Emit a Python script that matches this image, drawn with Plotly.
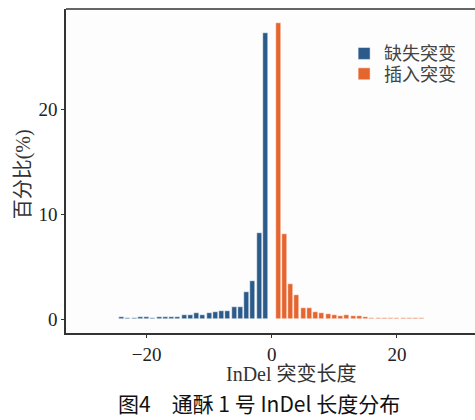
import plotly.graph_objects as go

# InDel length (deletions negative, insertions positive) and percentage
del_len = [-1, -2, -3, -4, -5, -6, -7, -8, -9, -10, -11, -12, -13, -14, -15, -16,
           -17, -18, -19, -20, -21, -22, -23, -24]
del_pct = [27.2, 8.2, 3.7, 2.6, 1.2, 1.2, 0.83, 0.83, 0.70, 0.64, 0.45, 0.57, 0.38, 0.38,
           0.26, 0.26, 0.19, 0.26, 0.16, 0.19, 0.19, 0.10, 0.10, 0.19]
ins_len = [1, 2, 3, 4, 5, 6, 7, 8, 9, 10, 11, 12, 13, 14, 15, 16, 17, 18, 19, 20,
           21, 22, 23, 24]
ins_pct = [28.2, 8.1, 3.4, 2.35, 1.1, 1.1, 0.72, 0.64, 0.56, 0.45, 0.35, 0.45, 0.29, 0.29,
           0.22, 0.16, 0.16, 0.16, 0.13, 0.13, 0.13, 0.10, 0.10, 0.10]

del_name = "缺失突变"
ins_name = "插入突变"
x_title = "InDel 突变长度"
y_title = "百分比(%)"
caption = "图4　通酥 1 号 InDel 长度分布"
x_ticks = [-20, 0, 20]
y_ticks = [0, 10, 20]

BLUE = "#2b5b8b"
ORANGE = "#e5652f"
SERIF = "Liberation Serif, Noto Sans CJK SC, serif"

fig = go.Figure()
fig.add_trace(go.Bar(x=del_len, y=del_pct, name=del_name, width=0.8, legend="legend",
                     marker=dict(color=BLUE, line=dict(color="white", width=0.5))))
fig.add_trace(go.Bar(x=ins_len, y=ins_pct, name=ins_name, width=0.8, legend="legend2",
                     marker=dict(color=ORANGE, line=dict(color="white", width=0.5))))

leg_common = dict(xanchor="left", yanchor="middle",
                  font=dict(family=SERIF, size=18, color="#444"),
                  bgcolor="rgba(0,0,0,0)", itemwidth=30)

fig.update_layout(
    width=475, height=420,
    margin=dict(l=66, r=0, t=9, b=87),
    paper_bgcolor="white", plot_bgcolor="#fdfdfd",
    bargap=0,
    showlegend=True,
    legend=dict(x=0.68, y=0.862, **leg_common),
    legend2=dict(x=0.68, y=0.799, **leg_common),
    xaxis=dict(range=[-32.88, 32.48], tickvals=x_ticks, ticks="outside", ticklen=3,
               tickcolor="#333", showline=True, linecolor="#333", linewidth=1.5,
               showgrid=False, zeroline=False,
               tickfont=dict(family=SERIF, size=19, color="#222")),
    yaxis=dict(range=[-1.29, 29.52], tickvals=y_ticks, ticks="outside", ticklen=3,
               tickcolor="#333", showline=True, linecolor="#333", linewidth=1.5,
               showgrid=False, zeroline=False,
               tickfont=dict(family=SERIF, size=19, color="#222")),
    shapes=[dict(type="line", xref="paper", yref="paper", x0=0, x1=1, y0=1, y1=1,
                 line=dict(color="#333", width=1.5))],
    annotations=[
        dict(text=x_title, xref="paper", yref="paper", x=0.552, y=-0.127,
             xanchor="center", yanchor="middle", showarrow=False,
             font=dict(family=SERIF, size=20, color="#333")),
        dict(text=y_title, xref="paper", yref="paper", x=-0.105, y=0.49,
             xanchor="center", yanchor="middle", showarrow=False, textangle=-90,
             font=dict(family=SERIF, size=20, color="#333")),
        dict(text=caption, xref="paper", yref="paper", x=0.472, y=-0.216,
             xanchor="center", yanchor="middle", showarrow=False,
             font=dict(family="Noto Sans CJK SC, sans-serif", size=21, color="#111")),
    ],
)

fig.write_html("out.html", config={"displayModeBar": False},
               post_script="document.body.style.margin='0';")
